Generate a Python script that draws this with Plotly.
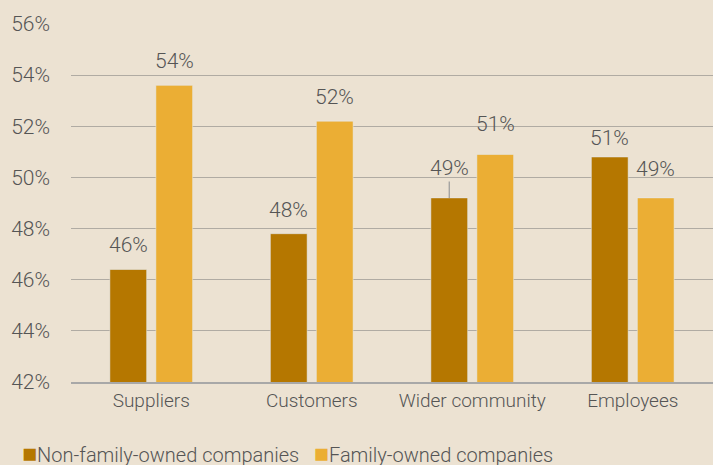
import plotly.graph_objs as go

categories = ["Suppliers", "Customers", "Wider community", "Employees"]
non_family = [46.4, 47.8, 49.2, 50.8]
family = [53.6, 52.2, 50.9, 49.2]
series_names = ["Non-family-owned companies", "Family-owned companies"]
y_ticks = [42, 44, 46, 48, 50, 52, 54, 56]

DARK = "#B57700"
LIGHT = "#EBAE34"
BG = "#ECE2D2"
TXT = "#555555"
FONT = "Roboto"

fig = go.Figure()
for name, vals, col in [(series_names[0], non_family, DARK), (series_names[1], family, LIGHT)]:
    fig.add_trace(go.Bar(x=categories, y=vals, name=name, marker_color=col,
                         showlegend=False))

# data labels, placed over each bar (bar slot is ~23px either side of the category centre)
label_shift = {("Wider community", 0): 30, ("Wider community", 1): 30,
               ("Employees", 0): 19, ("Employees", 1): 29}
for s, vals in enumerate([non_family, family]):
    for cat, v in zip(categories, vals):
        ys = label_shift.get((cat, s), 24)
        leader = (cat, s) == ("Wider community", 0)
        fig.add_annotation(
            x=cat, y=v, text=f"{round(v):d}%",
            xshift=-23 if s == 0 else 23,
            yshift=0 if leader else ys,
            showarrow=leader, ax=0, ay=-ys, arrowhead=0, arrowwidth=1.2,
            arrowcolor="#9A9A9A", standoff=0,
            font=dict(family=FONT, size=21, color=TXT, weight=300),
        )

# legend drawn as a text line (tight square + label like the original)
sq = "<span style='color:{};font-size:25px'>■</span>"
legend_text = (sq.format(DARK) + series_names[0] + "&nbsp;&nbsp; "
               + sq.format(LIGHT) + series_names[1])
fig.add_annotation(x=0, xref="paper", xanchor="left", xshift=-51,
                   y=0, yref="paper", yanchor="middle", yshift=-71,
                   text=legend_text, showarrow=False,
                   font=dict(family=FONT, size=20, color=TXT, weight=300))

fig.update_layout(
    width=713, height=465,
    margin=dict(l=71, r=0, t=24, b=83),
    paper_bgcolor=BG, plot_bgcolor=BG,
    barmode="group", bargap=0.427, bargroupgap=0.2,
    font=dict(family=FONT, color=TXT, weight=300),
    xaxis=dict(showgrid=False, ticks="", tickfont=dict(size=19),
               showline=True, linecolor="#A8A8A8", linewidth=2),
    yaxis=dict(range=[42, 56], tickvals=y_ticks, ticktext=[f"{t}%" for t in y_ticks],
               showgrid=True, gridcolor="#B0ABA3", gridwidth=1, zeroline=False,
               tickfont=dict(size=21), ticklabelstandoff=20, ticks=""),
)

fig.write_html("out.html", config={"displayModeBar": False},
               post_script="document.body.style.margin='0';")
